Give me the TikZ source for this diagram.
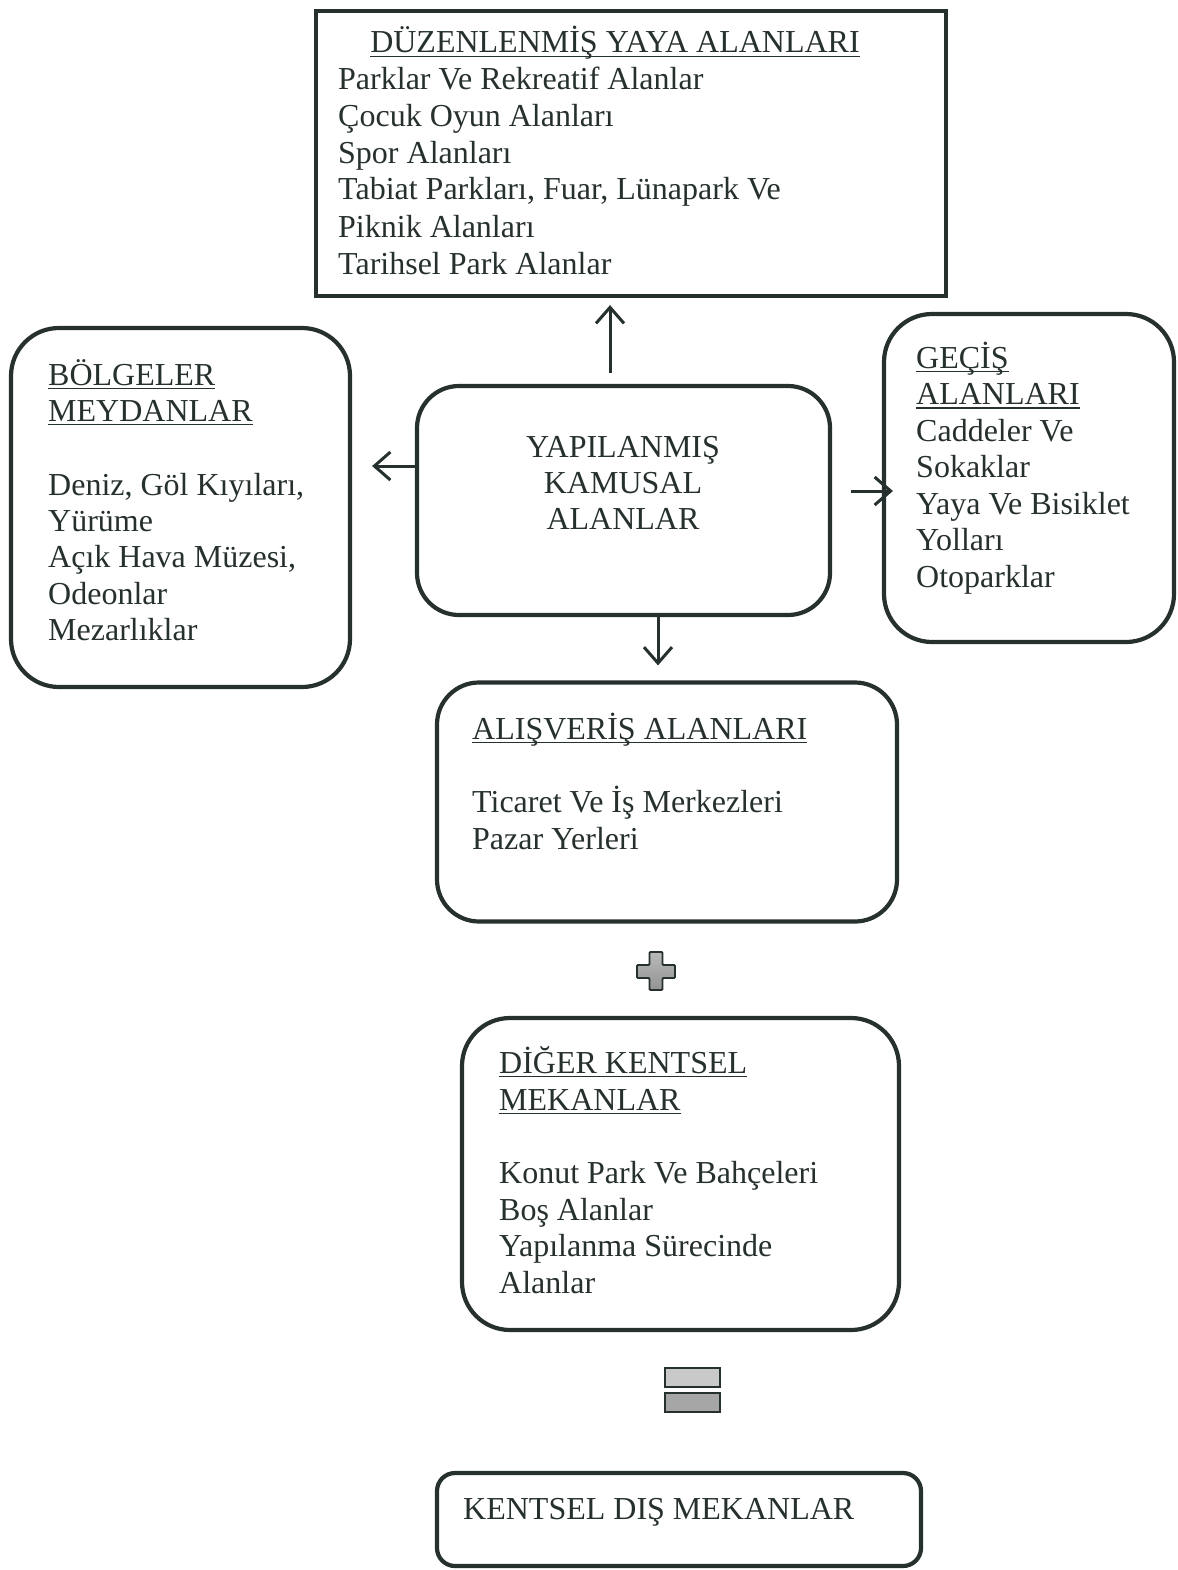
\documentclass[tikz,border=0pt]{standalone}
\usepackage{fontspec}
\setmainfont{Liberation Serif}
\usetikzlibrary{arrows.meta,calc}
\definecolor{ink}{RGB}{38,48,46}
% underline drawn just below the baseline, crossing the cedillas
\newcommand\ulin[1]{\setbox0=\hbox{#1}\rlap{\vrule height -2.6pt depth 4.2pt width \wd0}\box0}
\tikzset{
  box/.style={draw=ink, line width=4.2pt, inner sep=0pt},
  rbox/.style={box, rounded corners=#1},
  txt/.style={anchor=base west, inner sep=0pt, text=ink,
    font=\fontsize{32}{36.8}\selectfont},
  ctxt/.style={txt, anchor=base},
  arr/.style={draw=ink, line width=3pt, -{Straight Barb[length=16pt,width=28pt,line width=3pt]}}
}
\begin{document}
\begin{tikzpicture}[x=1pt,y=-1pt]
\useasboundingbox (0,0) rectangle (1177,1570);

% boxes
\node[box, minimum width=630pt, minimum height=285pt] (top) at (631,153.5) {};
\node[rbox=48pt, minimum width=339pt, minimum height=359pt] (left) at (180.5,507.5) {};
\node[rbox=42pt, minimum width=413pt, minimum height=229pt] (ctr) at (623.5,500.5) {};
\node[rbox=48pt, minimum width=290pt, minimum height=328pt] (right) at (1029,478) {};
\node[rbox=42pt, minimum width=460pt, minimum height=239pt] (alis) at (667,802) {};
\node[rbox=48pt, minimum width=437pt, minimum height=312pt] (diger) at (680.5,1174) {};
\node[rbox=18pt, minimum width=484pt, minimum height=93pt] (kent) at (679,1519.5) {};

% top box text
\node[ctxt] (t0) at (615,53) {\ulin{DÜZENLENMİŞ YAYA ALANLARI}};
\node[txt] (t1) at (338,90) {Parklar Ve Rekreatif Alanlar};
\node[txt] (t2) at (338,126.6) {Çocuk Oyun Alanları};
\node[txt] (t3) at (338,163.4) {Spor Alanları};
\node[txt] (t4) at (338,200) {Tabiat Parkları, Fuar, Lünapark Ve};
\node[txt] (t5) at (338,237) {Piknik Alanları};
\node[txt] (t6) at (338,274) {Tarihsel Park Alanlar};

% left box text
\node[txt] (l1) at (48,385) {\ulin{BÖLGELER}};
\node[txt] (l2) at (48,421) {\ulin{MEYDANLAR}};
\node[txt] (l3) at (48,495) {Deniz, Göl Kıyıları,};
\node[txt] (l4) at (48,531) {Yürüme};
\node[txt] (l5) at (48,567.5) {Açık Hava Müzesi,};
\node[txt] (l6) at (48,604) {Odeonlar};
\node[txt] (l7) at (48,640.5) {Mezarlıklar};

% centre box text
\node[ctxt] (c1) at (623,457) {YAPILANMIŞ};
\node[ctxt] (c2) at (623,493) {KAMUSAL};
\node[ctxt] (c3) at (623,529) {ALANLAR};

% right box text
\node[txt] (r1) at (916,368) {\ulin{GEÇİŞ}};
\node[txt] (r2) at (916,404.5) {\ulin{ALANLARI}};
\node[txt] (r3) at (916,441) {Caddeler Ve};
\node[txt] (r4) at (916,477.5) {Sokaklar};
\node[txt] (r5) at (916,514) {Yaya Ve Bisiklet};
\node[txt] (r6) at (916,550.5) {Yolları};
\node[txt] (r7) at (916,587) {Otoparklar};

% shopping box text
\node[txt] (a1) at (472,739) {\ulin{ALIŞVERİŞ ALANLARI}};
\node[txt] (a2) at (472,812) {Ticaret Ve İş Merkezleri};
\node[txt] (a3) at (472,849) {Pazar Yerleri};

% other urban spaces text
\node[txt] (d1) at (499,1073) {\ulin{DİĞER KENTSEL}};
\node[txt] (d2) at (499,1110) {\ulin{MEKANLAR}};
\node[txt] (d3) at (499,1183) {Konut Park Ve Bahçeleri};
\node[txt] (d4) at (499,1220) {Boş Alanlar};
\node[txt] (d5) at (499,1256.5) {Yapılanma Sürecinde};
\node[txt] (d6) at (499,1293) {Alanlar};

% result box text
\node[txt] (k1) at (463,1519) {KENTSEL DIŞ MEKANLAR};

% connectors
\draw[arr] ([xshift=-13.5pt,yshift=11pt]ctr.north) -- ([xshift=-21pt,yshift=-7pt]top.south);
\draw[arr] ([yshift=34.5pt]ctr.west) -- ([xshift=20pt,yshift=41.5pt]left.east);
\draw[arr] ([xshift=19pt,yshift=9.5pt]ctr.east) -- ([xshift=11pt,yshift=-13pt]right.west);
\draw[arr] ([xshift=34.5pt]ctr.south) -- ([xshift=-9pt,yshift=15pt]alis.north);

% plus sign
\draw[ink, line width=1.8pt, top color=gray!55, bottom color=gray!85, rounded corners=1pt]
  (649.5,952) -- (662.5,952) -- (662.5,965) -- (675,965) -- (675,978) -- (662.5,978)
  -- (662.5,990) -- (649.5,990) -- (649.5,978) -- (637,978) -- (637,965) -- (649.5,965) -- cycle;

% equals sign
\draw[ink, line width=2pt, fill=gray!42] (665,1368) rectangle (720,1387);
\draw[ink, line width=2pt, fill=gray!70] (665,1393) rectangle (720,1412);
\end{tikzpicture}
\end{document}
